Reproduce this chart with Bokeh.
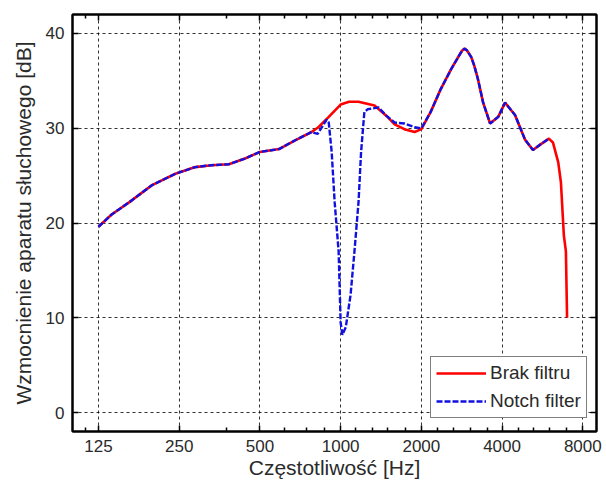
from bokeh.plotting import figure
from bokeh.models import (FixedTicker, NumeralTickFormatter, LogAxis, LinearAxis,
                          Legend, LegendItem)
from bokeh.embed import file_html
from bokeh.resources import INLINE

# ---- data ----
freq_brak = [125, 140, 163, 198, 242, 287, 330, 383, 440, 500, 589, 674, 779, 826,
             903, 1000, 1075, 1166, 1338, 1483, 1590, 1728, 1888, 2000, 2165, 2360,
             2580, 2770, 2840, 2900, 2960, 3070, 3150, 3250, 3400, 3610, 3870, 4105,
             4470, 4870, 5215, 5570, 5980, 6190, 6480, 6630, 6800, 6920, 6960, 6990]
gain_brak = [19.6, 20.9, 22.2, 24.0, 25.2, 25.9, 26.1, 26.2, 26.8, 27.5, 27.8, 28.7,
             29.6, 30.1, 31.2, 32.5, 32.8, 32.8, 32.4, 31.3, 30.4, 29.9, 29.6, 29.9,
             31.7, 34.1, 36.2, 37.7, 38.2, 38.4, 38.2, 37.5, 36.6, 35.2, 32.7, 30.5,
             31.2, 32.7, 31.4, 28.8, 27.7, 28.3, 28.9, 28.5, 26.4, 24.3, 18.7, 17.0,
             13.0, 10.0]

freq_notch = [125, 140, 163, 198, 242, 287, 330, 383, 440, 500, 589, 674, 779, 821,
              860, 887, 903, 926, 950, 983, 1000, 1015, 1045, 1089, 1126, 1166, 1192,
              1226, 1260, 1385, 1483, 1590, 1728, 1888, 2000, 2165, 2360, 2580, 2770,
              2840, 2900, 2960, 3070, 3150, 3250, 3400, 3610, 3870, 4105, 4470, 4870,
              5215, 5570, 5980]
gain_notch = [19.6, 20.9, 22.2, 24.0, 25.2, 25.9, 26.1, 26.2, 26.8, 27.5, 27.8, 28.7,
              29.6, 29.4, 30.3, 30.9, 30.6, 27.5, 22.2, 17.0, 9.5, 8.2, 9.0, 12.4,
              17.0, 22.2, 27.5, 31.7, 32.0, 32.2, 31.3, 30.6, 30.5, 30.1, 30.0, 31.7,
              34.1, 36.2, 37.7, 38.2, 38.4, 38.2, 37.5, 36.6, 35.2, 32.7, 30.5, 31.2,
              32.7, 31.4, 28.8, 27.7, 28.3, 28.9]

x_ticks = [125, 250, 500, 1000, 2000, 4000, 8000]
x_minor = [112, 374, 619, 748, 873, 1137, 1315, 1495, 1740, 2294, 2630, 3040, 3520,
           4590, 5220, 6030, 6970]
y_ticks = [0, 10, 20, 30, 40]
series_labels = ["Brak filtru", "Notch filter"]
x_label = "Częstotliwość [Hz]"
y_label = "Wzmocnienie aparatu słuchowego [dB]"

FONT = "Liberation Sans"
TXT = "#2a2a2a"

p = figure(width=606, height=482, x_axis_type="log", x_range=(100, 9000),
           y_range=(-2, 42), output_backend="svg", toolbar_location=None,
           min_border_left=72, min_border_right=10, min_border_top=14,
           min_border_bottom=51)
p.background_fill_color = "white"
p.border_fill_color = "white"
p.outline_line_color = "black"
p.outline_line_width = 2

xt = FixedTicker(ticks=x_ticks, minor_ticks=x_minor)
yt = FixedTicker(ticks=y_ticks)

def style_axis(ax, labels=True):
    ax.axis_line_color = "black"
    ax.axis_line_width = 2
    ax.major_tick_in = 6
    ax.major_tick_out = 0
    ax.minor_tick_in = 4
    ax.minor_tick_out = 0
    ax.major_tick_line_color = "black"
    ax.major_tick_line_width = 1.5
    ax.minor_tick_line_color = "black"
    ax.minor_tick_line_width = 1.5
    if labels:
        ax.major_label_text_font = FONT
        ax.major_label_text_font_size = "17px"
        ax.major_label_text_color = TXT
        ax.major_label_standoff = 8
        ax.axis_label_text_font = FONT
        ax.axis_label_text_font_size = "21px"
        ax.axis_label_text_font_style = "normal"
        ax.axis_label_text_color = TXT
    else:
        ax.major_label_text_font_size = "1px"
        ax.major_label_text_color = None
        ax.major_label_standoff = 0

xa = p.xaxis[0]
xa.ticker = xt
xa.formatter = NumeralTickFormatter(format="0")
xa.axis_label = x_label
xa.axis_label_standoff = 1
style_axis(xa)

ya = p.yaxis[0]
ya.ticker = yt
ya.axis_label = y_label
ya.axis_label_standoff = 8
style_axis(ya)

top = LogAxis(ticker=xt)
style_axis(top, labels=False)
p.add_layout(top, "above")
right = LinearAxis(ticker=yt)
style_axis(right, labels=False)
p.add_layout(right, "right")

for g in (p.xgrid[0], p.ygrid[0]):
    g.grid_line_color = "black"
    g.grid_line_alpha = 0.8
    g.grid_line_dash = "3 3"
    g.grid_line_width = 1
p.xgrid[0].ticker = xt
p.ygrid[0].ticker = yt

r1 = p.line(freq_brak, gain_brak, line_color="#ff0000", line_width=2.6)
r2 = p.line(freq_notch, gain_notch, line_color="#1010e0", line_width=2.4,
            line_dash="6 2")

legend = Legend(items=[LegendItem(label=series_labels[0], renderers=[r1]),
                       LegendItem(label=series_labels[1], renderers=[r2])],
                location=(358, 13))
legend.border_line_color = "black"
legend.border_line_width = 1
legend.background_fill_color = "white"
legend.background_fill_alpha = 1
legend.label_text_font = FONT
legend.label_text_font_size = "19px"
legend.label_text_color = TXT
legend.glyph_width = 50
legend.glyph_height = 20
legend.label_height = 20
legend.label_standoff = 4
legend.spacing = 6
legend.padding = 5
legend.margin = 0
p.add_layout(legend, "center")

open("out.html", "w").write(file_html(p, INLINE))
